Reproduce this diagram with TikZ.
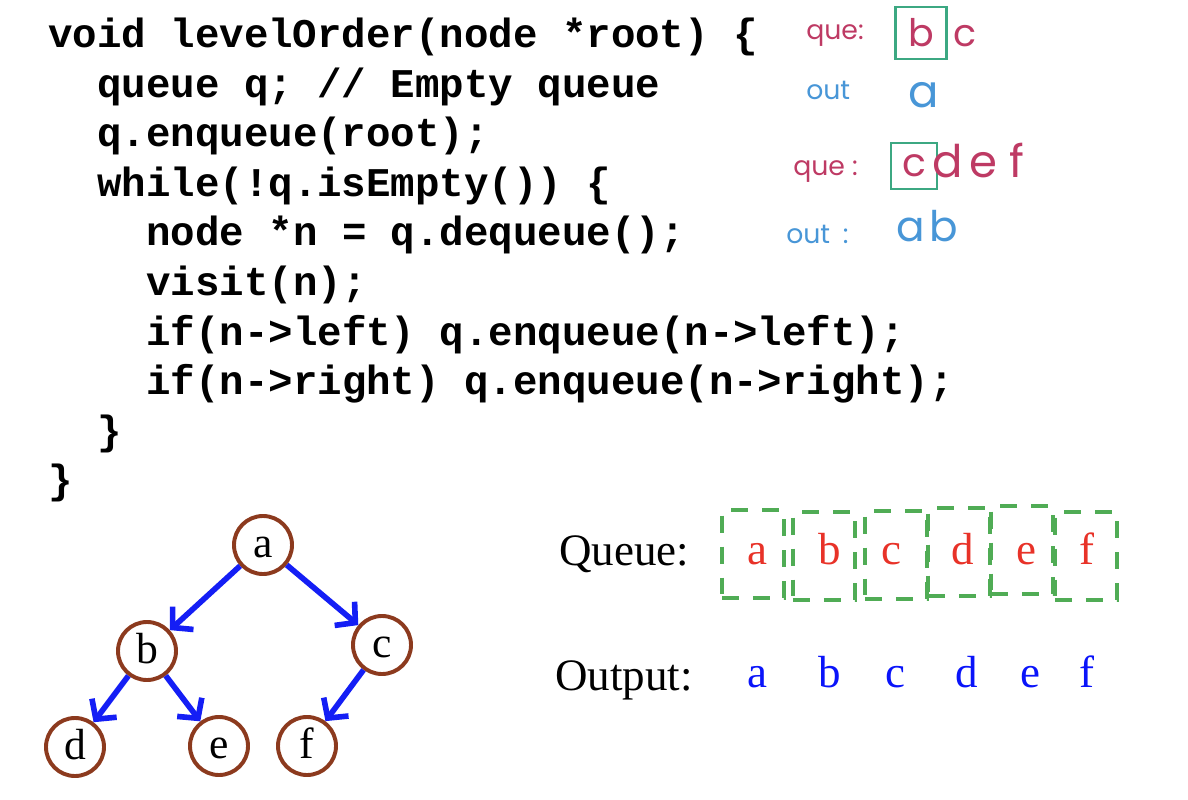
\documentclass[tikz,border=0pt]{standalone}
\usepackage{fontspec}
\setmainfont{Liberation Serif}
\setmonofont{Liberation Mono}
\newfontfamily\handfont{Poppins}
\usetikzlibrary{arrows.meta}

\definecolor{treebrown}{RGB}{140,58,30}
\definecolor{edgeblue}{RGB}{20,30,245}
\definecolor{qred}{RGB}{232,50,40}
\definecolor{qgreen}{RGB}{80,172,85}
\definecolor{outblue}{RGB}{10,20,250}
\definecolor{inkred}{RGB}{190,58,100}
\definecolor{inkblue}{RGB}{72,150,215}
\definecolor{inkteal}{RGB}{60,168,130}

\tikzset{
  codeline/.style={anchor=base west, inner sep=0pt, font=\ttfamily\bfseries\fontsize{29}{35}\selectfont},
  tnode/.style={circle, draw=treebrown, line width=2.8pt, minimum size=1.45cm, inner sep=0pt,
    text height=18pt, text depth=0pt, font=\fontsize{31}{37}\selectfont},
  tedge/.style={draw=edgeblue, line width=4pt, -{Straight Barb[length=10pt, width=22pt]}},
  qlabel/.style={anchor=base west, inner sep=0pt, font=\fontsize{32}{38}\selectfont},
  qbox/.style={draw=qgreen, line width=2.8pt, dash pattern=on 12pt off 10pt, minimum width=1.55cm, minimum height=2.18cm, inner sep=0pt},
  qletter/.style={anchor=base, inner sep=0pt, text=qred, font=\fontsize{32}{38}\selectfont},
  outletter/.style={anchor=base, inner sep=0pt, text=outblue, font=\fontsize{32}{38}\selectfont},
  inkque/.style={anchor=base west, inner sep=0pt, text=inkred, font=\handfont\fontsize{19}{22}\selectfont},
  inkout/.style={anchor=base west, inner sep=0pt, text=inkblue, font=\handfont\fontsize{19}{22}\selectfont},
  inkbox/.style={draw=inkteal, line width=2.1pt, inner sep=0pt, text=inkred},
}

\begin{document}
\begin{tikzpicture}[x=0.025cm, y=-0.025cm]
    \useasboundingbox (0,0) rectangle (1188,800);

    % Code of the traversal
    \node[codeline] (l1) at (48,48) {void levelOrder(node *root) \{};
    \node[codeline] (l2) at (97,97.5) {queue q; // Empty queue};
    \node[codeline] (l3) at (97,147) {q.enqueue(root);};
    \node[codeline] (l4) at (97,196.5) {while(!q.isEmpty()) \{};
    \node[codeline] (l5) at (146,246) {node *n = q.dequeue();};
    \node[codeline] (l6) at (146,295.5) {visit(n);};
    \node[codeline] (l7) at (146,345) {if(n->left) q.enqueue(n->left);};
    \node[codeline] (l8) at (146,394.5) {if(n->right) q.enqueue(n->right);};
    \node[codeline] (l9) at (97,444) {\}};
    \node[codeline] (l10) at (48,493.5) {\}};

    % Handwritten notes
    \node[inkque] (que1) at (806,40) {que:};
    \node[inkbox, minimum width=1.27cm, minimum height=1.3cm, font=\handfont\fontsize{27}{32}\selectfont] (hb) at (921,33) {b};
    \node[anchor=base, inner sep=0pt, text=inkred, font=\handfont\fontsize{27}{32}\selectfont] (hc) at (965,47) {c};
    \node[inkout] (out1) at (806,100) {out};
    \node[anchor=base, inner sep=0pt, text=inkblue, font=\handfont\fontsize{32}{38}\selectfont] (ha) at (924,108) {a};

    \node[inkque] (que2) at (793,176) {que\hspace{5pt}:};
    \node[inkbox, minimum width=1.15cm, minimum height=1.15cm, font=\handfont\fontsize{28}{32}\selectfont] (hcc) at (914,166) {c};
    \node[anchor=base, inner sep=0pt, text=inkred, font=\handfont\fontsize{32}{38}\selectfont] (hd) at (948,178) {d};
    \node[anchor=base, inner sep=0pt, text=inkred, font=\handfont\fontsize{32}{38}\selectfont] (he) at (983,178) {e};
    \node[anchor=base, inner sep=0pt, text=inkred, font=\handfont\fontsize{32}{38}\selectfont] (hf) at (1017,178) {f};
    \node[inkout] (out2) at (786,243) {out\hspace{9pt}:};
    \node[anchor=base, inner sep=0pt, text=inkblue, font=\handfont\fontsize{30}{36}\selectfont] (ha2) at (911,241) {a};
    \node[anchor=base, inner sep=0pt, text=inkblue, font=\handfont\fontsize{30}{36}\selectfont] (hb2) at (944,241) {b};

    % Binary tree
    \node[tnode] (a) at (263,545) {a};
    \node[tnode] (b) at (147,651) {b};
    \node[tnode] (c) at (382,645) {c};
    \node[tnode] (d) at (75,747) {d};
    \node[tnode] (e) at (219,746) {e};
    \node[tnode] (f) at (307,746) {f};
    \draw[tedge] (a) -- (b);
    \draw[tedge] (a) -- (c);
    \draw[tedge] (b) -- (d);
    \draw[tedge] (b) -- (e);
    \draw[tedge] (c) -- (f);

    % Queue boxes
    \node[qlabel] (queuelbl) at (559,565) {Queue:};
    \node[qbox] (q1) at (753,554) {};
    \node[qbox] (q2) at (824,556) {};
    \node[qbox] (q3) at (896,555) {};
    \node[qbox] (q4) at (959,552) {};
    \node[qbox] (q5) at (1022,550) {};
    \node[qbox] (q6) at (1086,556) {};
    \node[qletter] (qa) at (757,564) {a};
    \node[qletter] (qb) at (830,564) {b};
    \node[qletter] (qc) at (891,564) {c};
    \node[qletter] (qd) at (963,564) {d};
    \node[qletter] (qe) at (1026,564) {e};
    \node[qletter] (qf) at (1087,564) {f};

    % Output order
    \node[qlabel] (outlbl) at (555,690) {Output:};
    \node[outletter] (o1) at (757,687) {a};
    \node[outletter] (o2) at (830,687) {b};
    \node[outletter] (o3) at (895,687) {c};
    \node[outletter] (o4) at (967,687) {d};
    \node[outletter] (o5) at (1030,687) {e};
    \node[outletter] (o6) at (1087,687) {f};
\end{tikzpicture}
\end{document}
